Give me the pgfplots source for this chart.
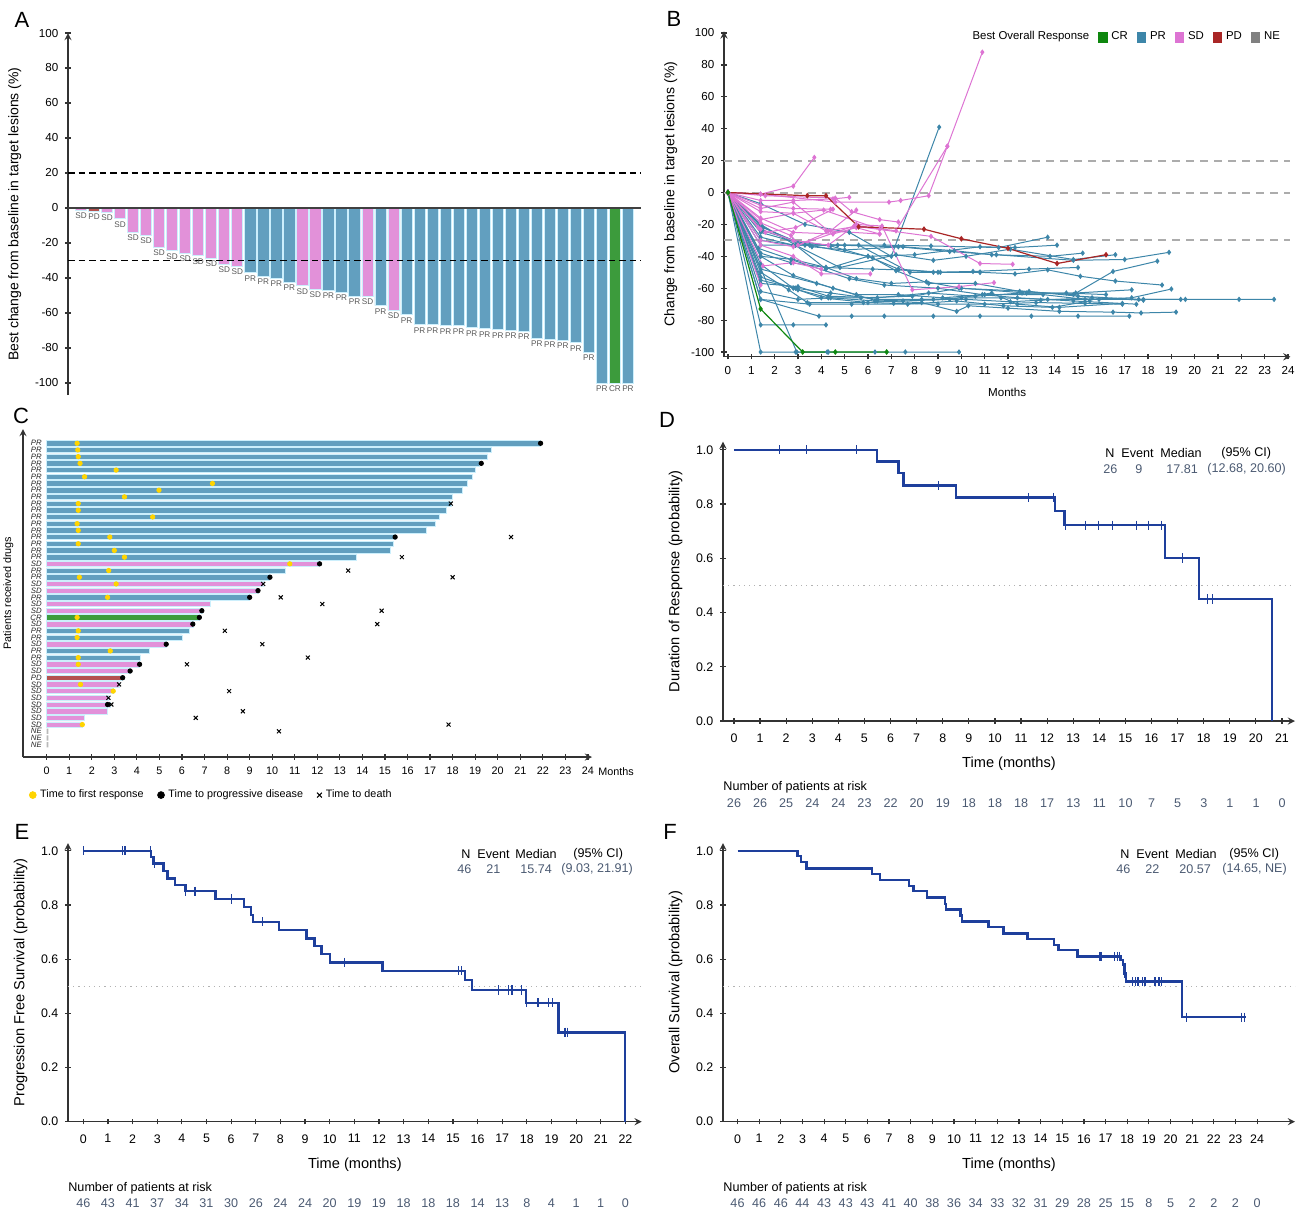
\documentclass[border=0pt]{standalone}
\usepackage{fontspec}
\setmainfont{Liberation Sans}
\usepackage{pgfplots}
\pgfplotsset{compat=1.18}

\definecolor{PRbar}{HTML}{629FBF}
\definecolor{SDbar}{HTML}{E291D9}
\definecolor{PDbar}{HTML}{B4524F}
\definecolor{CRbar}{HTML}{3C9B3C}
\definecolor{PRln}{HTML}{3D86A9}
\definecolor{SDln}{HTML}{DD74D3}
\definecolor{PDln}{HTML}{A92626}
\definecolor{CRln}{HTML}{0E870E}
\definecolor{KMblue}{HTML}{1E3F9C}
\definecolor{Slate}{HTML}{4B5A72}
\definecolor{Gold}{HTML}{FFD400}

\pgfplotsset{
  base/.style={scale only axis, clip=false, anchor=north west,
    axis line style={-, line width=0.6pt, black!80},
    tick style={line width=0.6pt, black!80},
    major tick length=2.6pt, tick align=outside,
    /pgf/number format/assume math mode=true,
    tick label style={font=\fontsize{5.8}{6}\selectfont},
    label style={font=\fontsize{7}{8}\selectfont}},
  km/.style={base, axis lines=left, ymin=0, ymax=1.03,
    ytick={0,0.2,0.4,0.6,0.8,1},
    yticklabel style={/pgf/number format/fixed, /pgf/number format/fixed zerofill, /pgf/number format/precision=1},
    xticklabel style={yshift=-1.5pt},
    xlabel style={yshift=-0.5pt},
    tick label style={font=\fontsize{6.2}{7}\selectfont},
    label style={font=\fontsize{7.3}{8}\selectfont},
    xlabel={Time (months)}},
  kmline/.style={KMblue, line width=1.2pt, const plot},
  cens/.style={KMblue, only marks, mark=|, mark size=2.3pt, mark options={line width=0.6pt}},
  half/.style={gray!60, dotted, line width=0.6pt},
  pr/.style={PRln, line width=0.5pt, mark=diamond*, mark size=1pt, forget plot},
  sd/.style={SDln, line width=0.5pt, mark=diamond*, mark size=1pt, forget plot},
  pd/.style={PDln, line width=0.6pt, mark=diamond*, mark size=1pt, forget plot},
  cr/.style={CRln, line width=0.6pt, mark=diamond*, mark size=1pt, forget plot},
  wbar/.style={ybar, bar width=0.86, bar shift=0pt, draw=white!80!cyan, line width=0.4pt,
    point meta=explicit symbolic, nodes near coords={\pgfplotspointmeta},
    every node near coord/.append style={font=\fontsize{4.1}{4.2}\selectfont, text=black!65,
      inner sep=0.6pt, anchor=north, yshift=-0.6pt}},
  sbar/.style={xbar, bar width=0.8, bar shift=0pt, draw=white!80!cyan, line width=0.3pt, forget plot},
}

\begin{document}
\begin{tikzpicture}
\path[use as bounding box] (0,0) rectangle (651.5pt,-606pt);

% ---------------- A: waterfall
\begin{axis}[base, at={(34pt,-16.5pt)}, width=286.5pt, height=181.1pt,
  xmin=0, xmax=44, ymin=-107, ymax=100,
  axis x line=none, axis y line=left,
  ytick={-100,-80,...,100},
  ylabel={Best change from baseline in target lesions (\%)}]
\addplot[wbar, fill=SDbar] coordinates {(1,-1.1)[SD] (3,-2.3)[SD] (4,-6.1)[SD] (5,-13.9)[SD] (6,-15.4)[SD]
  (7,-22.3)[SD] (8,-24.4)[SD] (9,-25.9)[SD] (10,-27.2)[SD] (11,-28.8)[SD] (12,-32.2)[SD] (13,-33.3)[SD]
  (18,-44.4)[SD] (19,-46.5)[SD] (23,-50.5)[SD] (25,-58.5)[SD]};
\addplot[wbar, fill=PDbar] coordinates {(2,-1.7)[PD]};
\addplot[wbar, fill=PRbar] coordinates {(14,-37.1)[PR] (15,-39)[PR] (16,-40)[PR] (17,-42.5)[PR]
  (20,-47)[PR] (21,-48.2)[PR] (22,-50.5)[PR] (24,-55.8)[PR] (26,-61.1)[PR] (27,-66.7)[PR] (28,-66.7)[PR]
  (29,-67.2)[PR] (30,-67.3)[PR] (31,-68.4)[PR] (32,-69)[PR] (33,-69.5)[PR] (34,-70)[PR] (35,-70.5)[PR]
  (36,-74.3)[PR] (37,-74.9)[PR] (38,-75.6)[PR] (39,-77.1)[PR] (40,-82.3)[PR] (41,-100)[PR] (43,-100)[PR]};
\addplot[wbar, fill=CRbar] coordinates {(42,-100)[CR]};
\addplot[black, line width=0.6pt, dash pattern=on 3.3pt off 2pt] coordinates {(0,20)(44,20)};
\addplot[black, line width=0.6pt, dash pattern=on 3.3pt off 2pt] coordinates {(0,-30)(44,-30)};
\addplot[black!75, line width=0.7pt] coordinates {(0,0)(44,0)};
\end{axis}

% ---------------- B: spider
\begin{axis}[base, at={(362pt,-15.7pt)}, width=283.2pt, height=162.7pt,
  xmin=-0.17, xmax=24.1, ymin=-103, ymax=101, axis lines=left,
  xtick={0,...,24}, ytick={-100,-80,...,100},
  xlabel={Months}, ylabel={Change from baseline in target lesions (\%)},
  xlabel style={font=\fontsize{5.8}{6}\selectfont},
  legend style={draw=none, fill=none, at={(1.0,1.025)}, anchor=north east,
    font=\fontsize{5.7}{6}\selectfont, legend columns=-1,
    /tikz/every even column/.append style={column sep=2.5pt}},
  legend image code/.code={\fill[#1] (0pt,-2.3pt) rectangle (4.2pt,2.3pt);}]
\foreach \yy in {20,0,-30} {
  \edef\tmp{\noexpand\addplot[gray!65, line width=1pt, dash pattern=on 4pt off 3pt, forget plot] coordinates {(-0.17,\yy)(24.1,\yy)};}\tmp}
% PR
\addplot[pr] coordinates {(0,0)(1.4,-100)(2.9,-100)(4.3,-100)(6.3,-100)(7.6,-100)(9.9,-100)};
\addplot[pr] coordinates {(0,0)(1.4,-83)(2.8,-83)(4.2,-83)};
\addplot[pr] coordinates {(0,0)(2.95,-100)(4.25,-100)};
\addplot[pr] coordinates {(0,0)(1.4,-67)(3.9,-77.5)(5.3,-77.5)(6.7,-77.5)(8.8,-77.5)(10.8,-77.5)(13.0,-77.5)(15.0,-77.5)(17.2,-77.5)};
\addplot[pr] coordinates {(0,0)(1.4,-62)(3.0,-67)(4.4,-66)(6.3,-68)(8.3,-69)(9.8,-74.5)(10.3,-71)(12.0,-72.5)(14.2,-74.5)(16.5,-75)(17.7,-75.5)(19.2,-75)};
\addplot[pr] coordinates {(0,0)(1.4,-55)(2.9,-60)(4.4,-63)(6.4,-67)(8.8,-67)(10.0,-66)(11.7,-66)(13.7,-67)(15.9,-67)(17.8,-67)(19.6,-67)(21.9,-67)(23.4,-67)};
\addplot[pr] coordinates {(0,0)(1.4,-45)(2.8,-60)(4.0,-66)(6.0,-69)(7.1,-69.5)(9.0,-70)(11.0,-70)(13.2,-69)(15.3,-69.5)(16.9,-70)};
\addplot[pr] coordinates {(0,0)(1.4,-53)(3.0,-61)(4.3,-66)(5.7,-66)(7.9,-65)(9.9,-60)(12.9,-62)(15.0,-65)(17.6,-67)(19.4,-67)};
\addplot[pr] coordinates {(0,0)(1.4,-40)(2.8,-42)(4.2,-47)(6.2,-48)(7.3,-48.5)(9.0,-50)(10.8,-50)(12.3,-51)(13.7,-48.5)(15.1,-52.5)(16.6,-55.5)(18.6,-58)};
\addplot[pr] coordinates {(0,0)(1.4,-28)(2.8,-33)(5.0,-33)(6.7,-33)(8.7,-33.5)(11.6,-34.5)(13.7,-28)};
\addplot[pr] coordinates {(0,0)(1.4,-25)(3.6,-34)(5.0,-36)(7.5,-34)(9.7,-36.5)(11.3,-39)(13.8,-40)(15.2,-38)};
\addplot[pr] coordinates {(0,0)(1.5,-22)(2.8,-30)(4.4,-33.5)(6.2,-41)(7.2,-49)(8.6,-57)(10.6,-57)(12.5,-62)(14.8,-64)(16.5,-49.5)(18.4,-43)};
\addplot[pr] coordinates {(0,0)(1.4,-21)(3.0,-32)(4.7,-33)(7.3,-34)(9.5,-37)(11.5,-39)(14.8,-42.5)(17.0,-42)(18.9,-37.5)};
\addplot[pr] coordinates {(0,0)(1.4,-7)(3.3,-20)(5.2,-25)(7.0,-40)(9.05,41)};
\addplot[pr] coordinates {(0,0)(1.4,-38)(2.7,-44)(4.2,-47)(5.5,-54)(7.0,-57)(8.5,-56)(10.0,-60)(12.8,-63)(14.9,-63)(17.3,-61)};
\addplot[pr] coordinates {(0,0)(1.4,-48)(3.8,-57)(5.5,-64)(7.3,-64)(9.2,-66)(11.0,-64)(13.5,-64)(15.3,-67)(17.3,-66)(19.0,-60.5)};
\addplot[pr] coordinates {(0,0)(1.4,-50)(2.6,-61)(3.4,-69)(5.8,-69)(7.5,-68)(9.5,-67)(11.3,-63)(12.4,-70)(14.2,-72)(16.9,-69.5)};
\addplot[pr] coordinates {(0,0)(1.4,-20)(2.9,-33)(4.8,-47)(7.2,-39)(8.8,-42.5)(10.2,-40)(12.1,-35.5)(14.8,-42)(16.6,-39)};
\addplot[pr] coordinates {(0,0)(1.3,-35)(2.7,-42)(5.2,-54)(6.7,-58)(9.0,-60)(10.9,-64)(12.4,-66)(14.8,-68)(17.5,-70)};
\addplot[pr] coordinates {(0,0)(1.4,-33)(3.3,-33)(5.6,-33)(7.8,-50)(8.8,-50)(10.5,-49.5)(12.9,-48)(15.0,-47)};
\addplot[pr] coordinates {(0,0)(1.4,-40)(2.8,-52)(4.5,-60)(6.4,-68)(8.3,-67)(10.2,-67)(12.1,-68.5)(13.4,-67.5)(15.6,-66)(17.8,-67.5)};
\addplot[pr] coordinates {(0,0)(1.4,-57)(3.0,-59)(4.3,-65)(6.4,-66)(8.6,-63)(10.6,-65)(12.6,-63)(14.5,-63)(16.2,-64)};
\addplot[pr] coordinates {(0,0)(1.4,-67)(3.5,-70)(5.3,-70)(7.7,-70)(9.8,-68)(11.8,-71)(13.9,-72)(15.5,-68)};
\addplot[pr] coordinates {(0,0)(1.5,-24)(3.5,-33)(6.0,-40)(8.0,-39)(10.8,-34)(12.3,-34.5)(14.1,-33)};
\addplot[pr] coordinates {(0,0)(1.4,-30)(2.9,-33)(4.2,-48)(6.0,-40)(7.3,-48)(9.1,-50)(10.8,-50)};
% SD
\addplot[sd] coordinates {(0,0)(1.4,-1)(2.8,4)(3.7,22)};
\addplot[sd] coordinates {(0,0)(1.4,-1)(4.6,-6)(6.9,-6)(7.4,-5)(8.6,-2)(9.4,29)(10.9,88)};
\addplot[sd] coordinates {(0,0)(1.4,-10)(2.8,-6)(4.3,-24)(5.6,-21)(7.2,-24)(9.4,29)};
\addplot[sd] coordinates {(0,0)(1.6,-2)(4.6,-3.5)(5.3,-12)(6.5,-17)(7.3,-18.5)};
\addplot[sd] coordinates {(0,0)(1.4,-5)(2.8,-5)(4.5,-4)(5.2,-3)};
\addplot[sd] coordinates {(0,0)(1.4,-8)(2.8,-10)(4.4,-10.5)};
\addplot[sd] coordinates {(0,0)(1.4,-12)(2.8,-13)(4.2,-24)(6.5,-26)};
\addplot[sd] coordinates {(0,0)(1.4,-16)(2.8,-25)(4.5,-26)(5.5,-22)(6.5,-26)};
\addplot[sd] coordinates {(0,0)(1.4,-19)(2.7,-27)(3.0,-33)(4.4,-24)(5.5,-11)};
\addplot[sd] coordinates {(0,0)(1.4,-23)(2.8,-30)(4.3,-33)(5.5,-20)(6.6,-21)(7.9,-61)(9.9,-59)(11.4,-56.5)};
\addplot[sd] coordinates {(0,0)(1.4,-33)(2.8,-40)(4.0,-51)(6.1,-51)};
\addplot[sd] coordinates {(0,0)(1.5,-46)(2.8,-44)(4.0,-48)};
\addplot[sd] coordinates {(0,0)(1.4,-58)};
\addplot[sd] coordinates {(0,0)(1.4,-30)(2.8,-34)(5.4,-21)(8.7,-27.5)(10.8,-44.5)(12.2,-45)};
\addplot[sd] coordinates {(0,0)(1.4,-17)(2.8,-13)(4.1,-11)(6.5,-23)};
\addplot[sd] coordinates {(0,0)(1.3,-22)(1.6,-25)(2.9,-22)(4.5,-10.5)};
% PD, CR
\addplot[pd] coordinates {(0,0)(3.4,-2)(4.2,-2)(5.6,-21.5)(8.4,-23)(10,-29)(12,-35)(14.1,-44.5)(16.2,-39)};
\addplot[cr] coordinates {(0,0)(1.4,-73)(3.2,-100)(4.6,-100)(6.8,-100)};
\addlegendimage{empty legend}\addlegendentry{Best Overall Response}
\addlegendimage{CRln}\addlegendentry{CR}
\addlegendimage{PRln}\addlegendentry{PR}
\addlegendimage{SDln}\addlegendentry{SD}
\addlegendimage{PDln}\addlegendentry{PD}
\addlegendimage{gray}\addlegendentry{NE}
\end{axis}

% ---------------- C: swimmer
\begin{axis}[base, at={(11.5pt,-214.5pt)}, width=284.5pt, height=164pt,
  xmin=-1.05, xmax=24.18, ymin=-0.84, ymax=48.13, axis lines=left,
  xtick={0,...,24}, ytick={1,...,46},
  yticklabels={NE,NE,NE,SD,SD,SD,SD,SD,SD,SD,PD,SD,SD,PR,PR,SD,PR,PR,SD,CR,SD,SD,PR,SD,SD,PR,PR,SD,
    PR,PR,PR,PR,PR,PR,PR,PR,PR,PR,PR,PR,PR,PR,PR,PR,PR,PR},
  y tick style={draw=none},
  tick label style={font=\fontsize{5.4}{6}\selectfont},
  yticklabel style={font=\fontsize{3.9}{3.9}\selectfont\itshape, xshift=14.2pt, text=black!85},
  ylabel={Patients received drugs},
  ylabel style={font=\fontsize{5.4}{6}\selectfont},
  legend image post style={mark size=1.7pt},
  legend style={draw=none, fill=none, at={(0,-0.116)}, anchor=west,
    font=\fontsize{5.4}{6}\selectfont, legend columns=3,
    /tikz/every even column/.append style={column sep=5pt}}]
\addplot[sbar, fill=PRbar] coordinates {(21.9,46)(19.72,45)(19.55,44)(19.2,43)(18.99,42)(18.88,41)(18.66,40)
  (18.42,39)(17.98,38)(17.96,37)(17.74,36)(17.4,35)(17.24,34)(16.85,33)(15.45,32)(15.37,31)(15.22,30)
  (13.73,29)(10.58,27)(9.88,26)(9.0,23)(6.33,18)(6.0,17)(4.57,15)(4.15,14)};
\addplot[sbar, fill=SDbar] coordinates {(12.1,28)(9.6,25)(9.37,24)(7.26,22)(6.88,21)(6.48,19)(5.3,16)
  (4.12,13)(3.7,12)(3.21,10)(2.95,9)(2.74,8)(2.8,7)(2.68,6)(1.68,5)(1.58,4)};
\addplot[sbar, fill=CRbar] coordinates {(6.77,20)};
\addplot[sbar, fill=PDbar] coordinates {(3.37,11)};
\addplot[sbar, fill=gray!55, draw=none] coordinates {(0.08,3)(0.08,2)(0.08,1)};
\addplot[only marks, mark=*, mark size=1.1pt, Gold] coordinates {(1.35,46)(1.38,45)(1.4,44)(1.48,43)
  (3.08,42)(1.68,41)(7.35,40)(4.98,39)(3.45,38)(1.4,37)(1.4,36)(4.7,35)(1.35,34)(1.4,33)(2.8,32)(1.4,31)
  (3.0,30)(3.45,29)(10.78,28)(2.75,27)(1.45,26)(3.08,25)(2.7,23)(1.35,20)(1.4,18)(1.35,17)(2.82,15)
  (1.4,14)(1.4,13)(1.5,10)(2.95,9)(1.58,4)};
\addlegendentry{Time to first response}
\addplot[only marks, mark=*, mark size=1.1pt, black] coordinates {(21.9,46)(19.27,43)(15.45,32)(12.1,28)
  (9.9,26)(9.37,24)(9.0,23)(6.88,21)(6.77,20)(6.48,19)(5.3,16)(4.12,13)(3.7,12)(3.37,11)(2.7,7)};
\addlegendentry{Time to progressive disease}
\addplot[only marks, mark=x, mark size=1.4pt, black, mark options={line width=0.5pt}] coordinates {(17.92,37)
  (20.59,32)(15.75,29)(13.37,27)(18.0,26)(9.6,25)(10.38,23)(12.22,22)(14.85,21)(14.66,19)(7.9,18)(9.56,16)
  (11.58,14)(6.22,13)(3.21,10)(8.09,9)(2.74,8)(2.87,7)(8.7,6)(6.61,5)(17.82,4)(10.3,3)};
\addlegendentry{Time to death}
\end{axis}

% ---------------- D: DoR
\begin{axis}[km, at={(361.5pt,-220.85pt)}, width=286pt, height=139.65pt,
  xmin=-0.42, xmax=21.5, xtick={0,...,21},
  ylabel={Duration of Response (probability)}]
\addplot[half] coordinates {(-0.42,0.5)(21.5,0.5)};
\addplot[kmline] coordinates {(0,1)(5.47,0.957)(6.31,0.914)(6.5,0.868)(8.5,0.824)(12.3,0.774)
  (12.66,0.722)(16.52,0.601)(17.82,0.45)(20.62,0)};
\addplot[cens] coordinates {(1.76,1)(2.78,1)(4.7,1)(7.85,0.868)(11.3,0.824)(12.26,0.824)(12.7,0.722)
  (13.46,0.722)(13.98,0.722)(14.5,0.722)(15.42,0.722)(15.9,0.722)(16.38,0.722)(17.18,0.601)(18.14,0.45)(18.33,0.45)};
\end{axis}

% ---------------- E: PFS
\begin{axis}[km, at={(34pt,-421.5pt)}, width=286.85pt, height=139.35pt,
  xmin=-0.62, xmax=22.66, ymax=1.029, xtick={0,...,22},
  ylabel={Progression Free Survival (probability)}]
\addplot[half] coordinates {(-0.62,0.5)(22.66,0.5)};
\addplot[kmline] coordinates {(0,1)(2.74,0.978)(2.85,0.953)(3.25,0.926)(3.42,0.898)(3.72,0.873)
  (4.15,0.851)(5.36,0.822)(6.53,0.792)(6.8,0.763)(6.89,0.738)(7.95,0.707)(9.05,0.676)(9.39,0.648)
  (9.66,0.619)(10.0,0.588)(12.15,0.557)(15.48,0.523)(15.77,0.486)(17.97,0.439)(19.29,0.33)(21.97,0)};
\addplot[cens] coordinates {(0,1)(1.6,1)(1.69,1)(2.74,1)(2.9,0.953)(4.15,0.851)(4.53,0.851)(6.02,0.822)
  (7.28,0.738)(10.6,0.588)(15.23,0.557)(15.35,0.557)(16.84,0.486)(17.26,0.486)(17.4,0.486)(17.77,0.486)
  (18.0,0.439)(18.45,0.439)(18.87,0.439)(19.04,0.439)(19.55,0.33)(19.66,0.33)};
\end{axis}

% ---------------- F: OS
\begin{axis}[km, at={(361.5pt,-421.5pt)}, width=286pt, height=139.35pt,
  xmin=-0.67, xmax=25.75, ymax=1.029, xtick={0,...,24},
  ylabel={Overall Survival (probability)}]
\addplot[half] coordinates {(-0.67,0.5)(25.75,0.5)};
\addplot[kmline] coordinates {(0,1)(2.77,0.98)(2.93,0.958)(3.19,0.935)(6.2,0.915)(6.58,0.893)(7.93,0.87)
  (8.12,0.851)(8.74,0.828)(9.58,0.804)(9.62,0.783)(10.3,0.761)(10.37,0.739)(11.59,0.718)(12.28,0.695)
  (13.39,0.675)(14.63,0.652)(14.82,0.633)(15.7,0.61)(17.7,0.597)(17.8,0.58)(17.88,0.547)(17.94,0.517)
  (20.54,0.386)(23.5,0.386)};
\addplot[cens] coordinates {(16.74,0.61)(16.8,0.61)(17.4,0.61)(17.55,0.61)(17.65,0.61)(17.88,0.547)
  (18.24,0.517)(18.38,0.517)(18.5,0.517)(18.7,0.517)(18.82,0.517)(19.28,0.517)(19.47,0.517)(19.59,0.517)
  (20.75,0.386)(23.29,0.386)(23.4,0.386)};
\end{axis}

% ---------------- texts placed in image pixels
\begin{scope}[x=0.5pt, y=-0.5pt, every node/.style={inner sep=0pt}]
\begin{scope}[font=\fontsize{11}{12}\selectfont]
\node at (22,20) {A}; \node at (674,19) {B}; \node at (21,416) {C};
\node at (667,420) {D}; \node at (22,832) {E}; \node at (670,832) {F};
\end{scope}
\node[anchor=west, font=\fontsize{5.4}{6}\selectfont] at (598,772) {Months};
\begin{scope}[font=\fontsize{6.3}{7}\selectfont]
% D stats
\node[anchor=west] at (1105,453) {N}; \node[anchor=west] at (1121,453) {Event};
\node[anchor=west] at (1160,453) {Median}; \node[anchor=west] at (1221,453) {(95\% CI)};
\node[anchor=west, text=Slate] at (1103,469) {26}; \node[anchor=west, text=Slate] at (1135,469) {9};
\node[anchor=west, text=Slate] at (1166,469) {17.81}; \node[anchor=west, text=Slate] at (1207,469) {(12.68, 20.60)};
% E stats
\node[anchor=west] at (461,854) {N}; \node[anchor=west] at (477,854) {Event};
\node[anchor=west] at (515,854) {Median}; \node[anchor=west] at (573,854) {(95\% CI)};
\node[anchor=west, text=Slate] at (457,869) {46}; \node[anchor=west, text=Slate] at (486,869) {21};
\node[anchor=west, text=Slate] at (520,869) {15.74}; \node[anchor=west, text=Slate] at (561,869) {(9.03, 21.91)};
% F stats
\node[anchor=west] at (1120,854) {N}; \node[anchor=west] at (1136,854) {Event};
\node[anchor=west] at (1175,854) {Median}; \node[anchor=west] at (1229,854) {(95\% CI)};
\node[anchor=west, text=Slate] at (1116,869) {46}; \node[anchor=west, text=Slate] at (1145,869) {22};
\node[anchor=west, text=Slate] at (1179,869) {20.57}; \node[anchor=west, text=Slate] at (1222,869) {(14.65, NE)};
% risk tables
\node[anchor=west] at (723,787) {Number of patients at risk};
\node[anchor=west] at (68,1188) {Number of patients at risk};
\node[anchor=west] at (723,1188) {Number of patients at risk};
\foreach \n [count=\i from 0] in {26,26,25,24,24,23,22,20,19,18,18,18,17,13,11,10,7,5,3,1,1,0}
  \node[text=Slate] at ({734+\i*26.1},803) {\n};
\foreach \n [count=\i from 0] in {46,43,41,37,34,31,30,26,24,24,20,19,19,18,18,18,14,13,8,4,1,1,0}
  \node[text=Slate] at ({83.3+\i*24.64},1203) {\n};
\foreach \n [count=\i from 0] in {46,46,46,44,43,43,43,41,40,38,36,34,33,32,31,29,28,25,15,8,5,2,2,2,0}
  \node[text=Slate] at ({737.5+\i*21.65},1203) {\n};
\end{scope}
\end{scope}
\end{tikzpicture}
\end{document}
